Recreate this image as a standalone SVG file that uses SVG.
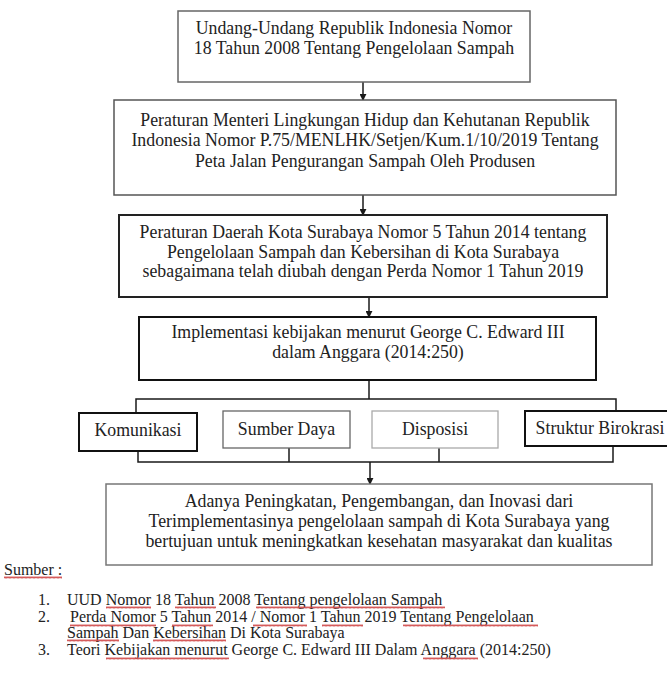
<svg xmlns="http://www.w3.org/2000/svg" width="667" height="677" viewBox="0 0 667 677">
<defs>
<style>
text{font-family:"Liberation Serif","Times New Roman",serif;font-size:17.8px;fill:#222}
.c{text-anchor:middle}
.box{fill:#fff}
.conn{stroke:#1a1a1a;stroke-width:1.5;fill:none}
.src{font-size:16px;fill:#222}
.sq{fill:url(#wv)}
</style>
<pattern id="wv" width="4" height="3" patternUnits="userSpaceOnUse">
<path d="M0,2.5 L1,0.5 L2,2.5 L3,0.5 L4,2.5" fill="none" stroke="#d04848" stroke-width="0.9"/>
</pattern>
<marker id="ah" viewBox="0 0 8 8" refX="7" refY="4" markerWidth="7" markerHeight="7" markerUnits="userSpaceOnUse" orient="auto">
<path d="M0,0 L8,4 L0,8 z" fill="#1a1a1a"/>
</marker>
</defs>
<rect width="667" height="677" fill="#fff"/>

<g id="connectors">
<line class="conn" x1="363" y1="82" x2="363" y2="100" marker-end="url(#ah)"/>
<line class="conn" x1="363" y1="195" x2="363" y2="215" marker-end="url(#ah)"/>
<line class="conn" x1="369" y1="297" x2="369" y2="317" marker-end="url(#ah)"/>
<polyline class="conn" points="369,380 369,399"/>
<polyline class="conn" points="136,413 136,399 616,399 616,411"/>
<polyline class="conn" points="138,451 138,462 613,462 613,446"/>
<line class="conn" x1="289" y1="448" x2="289" y2="462"/>
<line class="conn" x1="439" y1="448" x2="439" y2="462"/>
<line class="conn" x1="370" y1="462" x2="370" y2="484" marker-end="url(#ah)"/>
</g>

<g id="n1">
<rect class="box" x="178" y="11" width="352" height="71" stroke="#666" stroke-width="1.5"/>
<text class="c" x="354" y="34" fill="#333">Undang-Undang Republik Indonesia Nomor</text>
<text class="c" x="354" y="54" fill="#333">18 Tahun 2008 Tentang Pengelolaan Sampah</text>
</g>

<g id="n2">
<rect class="box" x="114" y="100" width="502" height="95" stroke="#555" stroke-width="1.5"/>
<text class="c" x="365" y="126">Peraturan Menteri Lingkungan Hidup dan Kehutanan Republik</text>
<text class="c" x="365" y="146">Indonesia Nomor P.75/MENLHK/Setjen/Kum.1/10/2019 Tentang</text>
<text class="c" x="365" y="167">Peta Jalan Pengurangan Sampah Oleh Produsen</text>
</g>

<g id="n3">
<rect class="box" x="119" y="215" width="488" height="82" stroke="#222" stroke-width="2"/>
<text class="c" x="363" y="238">Peraturan Daerah Kota Surabaya Nomor 5 Tahun 2014 tentang</text>
<text class="c" x="363" y="258">Pengelolaan Sampah dan Kebersihan di Kota Surabaya</text>
<text class="c" x="363" y="277">sebagaimana telah diubah dengan Perda Nomor 1 Tahun 2019</text>
</g>

<g id="n4">
<rect class="box" x="139" y="317" width="457" height="63" stroke="#111" stroke-width="2"/>
<text class="c" x="368" y="338">Implementasi kebijakan menurut George C. Edward III</text>
<text class="c" x="368" y="358">dalam Anggara (2014:250)</text>
</g>

<g id="n5">
<rect class="box" x="79" y="413" width="118" height="38" stroke="#111" stroke-width="2"/>
<text class="c" x="138" y="436">Komunikasi</text>
</g>

<g id="n6">
<rect class="box" x="223" y="411" width="127" height="37" stroke="#666" stroke-width="1.3"/>
<text class="c" x="286.5" y="435">Sumber Daya</text>
</g>

<g id="n7">
<rect class="box" x="372" y="411" width="126" height="37" stroke="#aaa" stroke-width="1.3"/>
<text class="c" x="435" y="435" fill="#888">Disposisi</text>
</g>

<g id="n8">
<rect class="box" x="525" y="411" width="150" height="35" stroke="#111" stroke-width="2"/>
<text class="c" x="600" y="434">Struktur Birokrasi</text>
</g>

<g id="n9">
<rect class="box" x="106" y="484" width="546" height="81" stroke="#777" stroke-width="1.5"/>
<text class="c" x="379" y="507" fill="#444">Adanya Peningkatan, Pengembangan, dan Inovasi dari</text>
<text class="c" x="379" y="527" fill="#333">Terimplementasinya pengelolaan sampah di Kota Surabaya yang</text>
<text class="c" x="379" y="547" fill="#111">bertujuan untuk meningkatkan kesehatan masyarakat dan kualitas</text>
</g>

<g id="sources">
<text class="src" x="4" y="575"><tspan>Sumber :</tspan></text>
<text class="src" x="38" y="605">1.</text>
<text class="src" x="67" y="605">UUD <tspan>Nomor</tspan> 18 <tspan>Tahun</tspan> 2008 <tspan>Tentang pengelolaan Sampah</tspan></text>
<text class="src" x="38" y="622">2.</text>
<text class="src" x="70" y="622"><tspan>Perda Nomor</tspan> 5 <tspan>Tahun</tspan> 2014 <tspan>/ Nomor</tspan> 1 <tspan>Tahun</tspan> 2019 <tspan>Tentang Pengelolaan</tspan></text>
<text class="src" x="67" y="638"><tspan>Sampah</tspan> Dan <tspan>Kebersihan</tspan> Di Kota Surabaya</text>
<text class="src" x="38" y="655">3.</text>
<text class="src" x="67" y="655">Teori <tspan>Kebijakan menurut</tspan> George C. Edward III Dalam <tspan>Anggara</tspan> (2014:250)</text>
</g>

<g id="spellmarks">
<rect class="sq" x="4" y="576" width="58" height="3"/>
<rect class="sq" x="106" y="606" width="45" height="3"/>
<rect class="sq" x="175" y="606" width="41" height="3"/>
<rect class="sq" x="256" y="606" width="189" height="3"/>
<rect class="sq" x="70" y="624" width="86" height="3"/>
<rect class="sq" x="172" y="624" width="41" height="3"/>
<rect class="sq" x="253" y="624" width="54" height="3"/>
<rect class="sq" x="322" y="624" width="41" height="3"/>
<rect class="sq" x="403" y="624" width="135" height="3"/>
<rect class="sq" x="67" y="639" width="52" height="3"/>
<rect class="sq" x="153" y="639" width="73" height="3"/>
<rect class="sq" x="106" y="657" width="123" height="3"/>
<rect class="sq" x="423" y="657" width="55" height="3"/>
</g>
</svg>
